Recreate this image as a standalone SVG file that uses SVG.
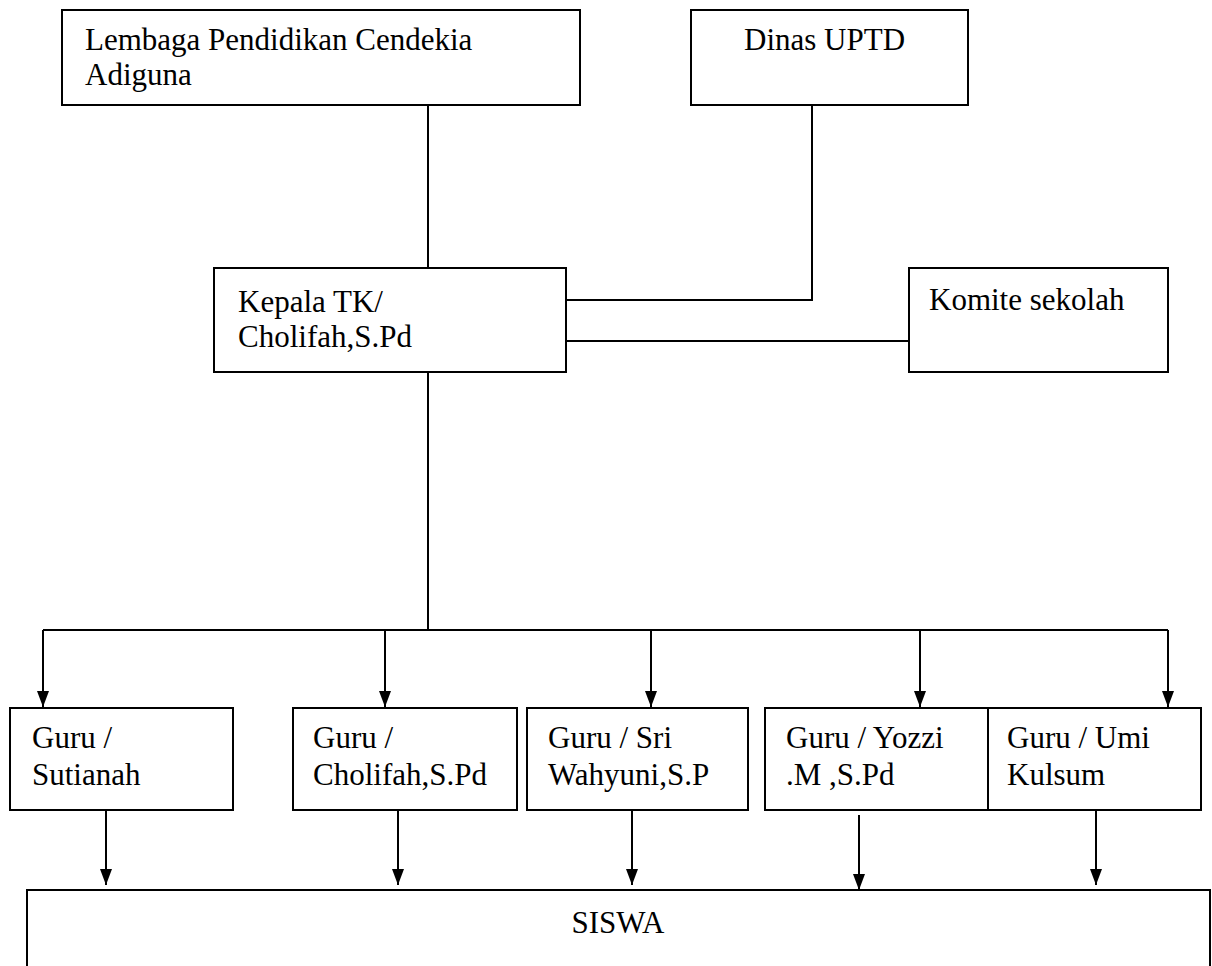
<svg xmlns="http://www.w3.org/2000/svg" width="1212" height="966" viewBox="0 0 1212 966">
<style>
.box{fill:#fff;stroke:#000;stroke-width:2}
.t{font-family:"Liberation Serif","Times New Roman",serif;font-size:31px;fill:#000}
.c{fill:none;stroke:#000;stroke-width:2}
</style>
<defs>
<marker id="ah" markerWidth="16" markerHeight="12" refX="16" refY="6" orient="auto" markerUnits="userSpaceOnUse" viewBox="0 0 16 12">
<path d="M0,0 L16,6 L0,12 Z" fill="#000"/>
</marker>
</defs>
<rect width="1212" height="966" fill="#fff"/>
<g id="connectors">
<path class="c" d="M428,105 V268"/>
<path class="c" d="M812,105 V300 H566"/>
<path class="c" d="M566,341 H909"/>
<path class="c" d="M428,372 V630"/>
<path class="c" d="M43,630 H1168"/>
<path class="c" d="M43,630 V707" marker-end="url(#ah)"/>
<path class="c" d="M385,630 V707" marker-end="url(#ah)"/>
<path class="c" d="M651,630 V707" marker-end="url(#ah)"/>
<path class="c" d="M920,630 V707" marker-end="url(#ah)"/>
<path class="c" d="M1168,630 V707" marker-end="url(#ah)"/>
<path class="c" d="M106,811 V885" marker-end="url(#ah)"/>
<path class="c" d="M398,811 V885" marker-end="url(#ah)"/>
<path class="c" d="M632,811 V885" marker-end="url(#ah)"/>
<path class="c" d="M859,815 V890" marker-end="url(#ah)"/>
<path class="c" d="M1096,811 V885" marker-end="url(#ah)"/>
</g>
<g id="lembaga"><rect class="box" x="62" y="10" width="518" height="95"/><text class="t" x="85" y="50">Lembaga Pendidikan Cendekia</text><text class="t" x="85" y="85">Adiguna</text></g>
<g id="dinas"><rect class="box" x="691" y="10" width="277" height="95"/><text class="t" x="744" y="50">Dinas UPTD</text></g>
<g id="kepala"><rect class="box" x="214" y="268" width="352" height="104"/><text class="t" x="238" y="312">Kepala TK/</text><text class="t" x="238" y="347">Cholifah,S.Pd</text></g>
<g id="komite"><rect class="box" x="909" y="268" width="259" height="104"/><text class="t" x="929" y="310">Komite sekolah</text></g>
<g id="guru1"><rect class="box" x="10" y="708" width="223" height="102"/><text class="t" x="32" y="748">Guru /</text><text class="t" x="32" y="785">Sutianah</text></g>
<g id="guru2"><rect class="box" x="293" y="708" width="224" height="102"/><text class="t" x="313" y="748">Guru /</text><text class="t" x="313" y="785">Cholifah,S.Pd</text></g>
<g id="guru3"><rect class="box" x="527" y="708" width="221" height="102"/><text class="t" x="548" y="748">Guru / Sri</text><text class="t" x="548" y="785">Wahyuni,S.P</text></g>
<g id="guru4"><rect class="box" x="765" y="708" width="223" height="102"/><text class="t" x="786" y="748">Guru / Yozzi</text><text class="t" x="786" y="785">.M ,S.Pd</text></g>
<g id="guru5"><rect class="box" x="988" y="708" width="213" height="102"/><text class="t" x="1007" y="748">Guru / Umi</text><text class="t" x="1007" y="785">Kulsum</text></g>
<g id="siswa"><rect class="box" x="27" y="890" width="1183" height="90"/><text class="t" x="618" y="933" text-anchor="middle">SISWA</text></g>
</svg>
